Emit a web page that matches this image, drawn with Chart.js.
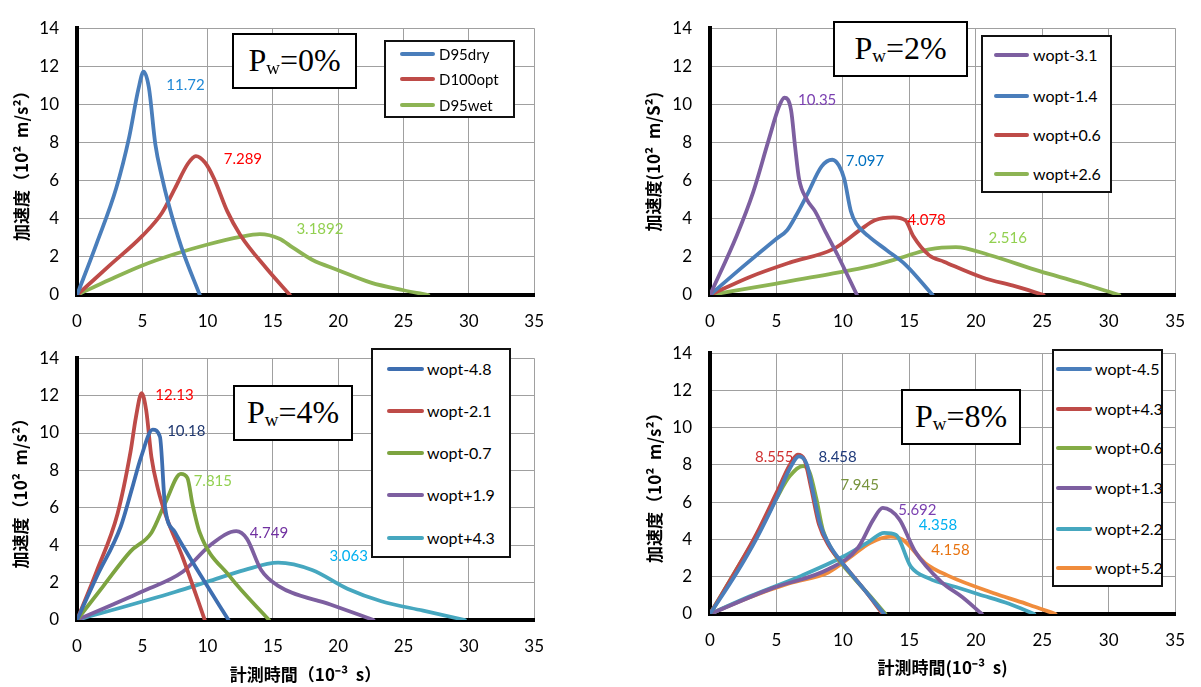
<!DOCTYPE html>
<html><head><meta charset="utf-8">
<script src="https://cdn.jsdelivr.net/npm/chart.js@4.4.1/dist/chart.umd.min.js"></script>
<style>
body{margin:0;width:1201px;height:687px;background:#fff;position:relative;overflow:hidden}
canvas{position:absolute}
.pw{position:absolute;border:2px solid #000;background:#fff;box-sizing:border-box;text-align:center;font-family:"Liberation Serif","DejaVu Serif",serif;font-size:32px;color:#000;white-space:nowrap}
.pw sub{font-size:19px;position:relative;top:3px;vertical-align:baseline;line-height:0}
.lg{position:absolute;border:2px solid #111;background:#fff;box-sizing:border-box}
.ln{position:absolute;height:4px;border-radius:2px}
.lt{position:absolute;font-family:Lato,"Open Sans",sans-serif;color:#000;white-space:nowrap;transform:translateY(-50%);line-height:1}
</style></head><body>
<script>
// ---------- axis ticks ----------
const xTickValues = [0,5,10,15,20,25,30,35];
const yTickValues = [0,2,4,6,8,10,12,14];

// ---------- panel titles ----------
const pwValues = ['0%','2%','4%','8%'];
const yTitles = ['加速度（10²  m/s²）','加速度(10²  m/S²)','加速度（10²  m/s²）','加速度（10²  m/s²）'];
const xTitles = [null,null,'計測時間（10⁻³  s）','計測時間(10⁻³  s)'];

// ---------- Panel 1 (Pw=0%) ----------
const p1Names = ['D95dry','D100opt','D95wet'];
const p1_D95dry_t = [0,1.5,3,4,4.7,5.1,5.5,6,6.5,7,8,9.4];
const p1_D95dry_a = [0,2.7,5.6,8.3,10.8,11.72,10.9,7.9,6.2,4.8,2.5,0];
const p1_D100opt_t = [0,2.5,5,6.5,7.5,8.5,9.1,9.8,10.5,11.5,12.5,14.5,16.3];
const p1_D100opt_a = [0,1.55,3.1,4.3,5.6,6.9,7.289,6.95,6.1,4.4,3.15,1.4,0];
const p1_D95wet_t = [0,2.5,5,7.5,10,12.5,14,15.5,16.5,18,20,22.5,25,26.9];
const p1_D95wet_a = [0,0.8,1.55,2.15,2.65,3.05,3.19,2.95,2.5,1.85,1.3,0.65,0.25,0];
const p1Peaks = ['11.72','7.289','3.1892'];

// ---------- Panel 2 (Pw=2%) ----------
const p2Names = ['wopt-3.1','wopt-1.4','wopt+0.6','wopt+2.6'];
const p2_m31_t = [0,2,3.25,4.4,5.2,5.6,6.1,6.4,6.7,7.3,7.9,8.7,9.6,11.06];
const p2_m31_a = [0,3.1,5.4,8.1,9.9,10.35,9.7,7.8,6.1,5.0,4.4,3.3,2.1,0];
const p2_m14_t = [0,2.5,5,5.8,6.5,7.3,8.4,9.2,9.7,10.1,10.6,11.0,11.9,13.3,14.7,16.75];
const p2_m14_a = [0,1.5,2.95,3.4,4.2,5.25,6.75,7.097,6.8,6.1,4.4,3.75,3.1,2.35,1.6,0];
const p2_p06_t = [0,3,6,9.3,11.3,12.4,13.8,14.7,15.3,16.5,17.6,20.5,23,25.1];
const p2_p06_a = [0,0.95,1.7,2.42,3.42,3.92,4.078,3.92,3.08,2.08,1.75,0.92,0.45,0];
const p2_p26_t = [0,5,9.6,12,14.2,16.5,18.5,21,24.8,27.7,30.8];
const p2_p26_a = [0,0.6,1.17,1.5,1.92,2.4,2.516,2.1,1.25,0.67,0];
const p2Peaks = ['10.35','7.097','4.078','2.516'];

// ---------- Panel 3 (Pw=4%) ----------
const p3Names = ['wopt-4.8','wopt-2.1','wopt-0.7','wopt+1.9','wopt+4.3'];
const p3_m48_t = [0,1.5,3.35,4.2,4.9,5.8,6.35,6.75,7.5,8.5,9.5,11.6];
const p3_m48_a = [0,2.3,5.0,7.0,8.7,10.18,9.8,6.0,4.7,3.5,2.35,0];
const p3_m21_t = [0,1.5,3.1,4.1,4.5,4.95,5.3,5.7,6.2,6.8,8.1,9.78];
const p3_m21_a = [0,2.6,5.67,9,10.8,12.13,11.2,8.7,7.0,5.6,3.33,0];
const p3_m07_t = [0,2,4.1,5.7,6.8,7.95,8.45,8.85,9.4,11.7,14.7];
const p3_m07_a = [0,1.8,3.67,4.67,6.33,7.815,7.6,6.17,4.67,2.33,0];
const p3_p19_t = [0,4.9,8.1,10.2,12.2,13.0,14.1,15.4,19.4,22.7];
const p3_p19_a = [0,1.5,2.58,4.0,4.749,4.35,2.67,1.83,0.83,0];
const p3_p43_t = [0,7.5,10,12.8,15.4,18,20.7,23.3,26.5,29.7];
const p3_p43_a = [0,1.5,2.05,2.67,3.063,2.67,1.67,1.0,0.5,0];
const p3Peaks = ['10.18','12.13','7.815','4.749','3.063'];

// ---------- Panel 4 (Pw=8%) ----------
const p4Names = ['wopt-4.5','wopt+4.3','wopt+0.6','wopt+1.3','wopt+2.2','wopt+5.2'];
const p4_m45_t = [0,2,3.5,5,6,6.7,7.3,7.8,8.3,9,10,11.5,13.1];
const p4_m45_a = [0,2.2,4.05,6.2,7.8,8.458,8.0,6.4,4.8,3.7,2.7,1.4,0];
const p4_p43_t = [0,2,3.5,5,6,6.6,7.1,7.6,8.2,9,10,11.5,13.0];
const p4_p43_a = [0,2.4,4.3,6.5,8.0,8.555,8.3,6.8,4.8,3.6,2.7,1.4,0];
const p4_p06_t = [0,2,3.5,5,6,7,7.5,8,8.5,9.3,10.5,12,13.2];
const p4_p06_a = [0,2.4,4.2,6.2,7.4,7.945,7.6,6.2,4.5,3.3,2.2,1.0,0];
const p4_p13_t = [0,4.7,8.9,11.15,12.3,13.0,14.25,15.4,17.4,19,20.46];
const p4_p13_a = [0,1.39,2.4,3.57,5.08,5.692,5.08,3.4,1.73,0.9,0];
const p4_p22_t = [0,3,6.9,10,12,13.1,14,15.1,16.5,18.5,20.2,22.5,24.4];
const p4_p22_a = [0,0.95,2.06,3.07,3.9,4.358,4.24,2.56,1.9,1.45,1.06,0.55,0];
const p4_p52_t = [0,3,6,8.9,10.6,12,13.6,14.5,16.2,17.9,21.6,24,26];
const p4_p52_a = [0,0.9,1.65,2.23,3.07,3.8,4.158,3.99,2.73,2.06,1.06,0.5,0];
const p4Peaks = ['8.458','8.555','7.945','5.692','4.358','4.158'];

// ---------- styles / layout ----------
const C = {blue:'#4A7EBB', red:'#BE4B48', green:'#8DB454', purple:'#7D5FA0', teal:'#46A7BF', orange:'#F08C3C'};
const tickFont = {family:'Lato, "Open Sans", sans-serif', size:17};
const titleFont = {family:'"Noto Sans CJK JP", sans-serif', size:17, weight:'bold'};

const panels = [
 {left:0, top:0, w:560, h:340, pad:{left:0,top:16,right:12,bottom:0}, yw:77, xh:45, ytp:11, xtb:0,
  series:[[p1Names[0],p1_D95dry_t,p1_D95dry_a,C.blue],[p1Names[1],p1_D100opt_t,p1_D100opt_a,C.red],[p1Names[2],p1_D95wet_t,p1_D95wet_a,C.green]],
  peaks:p1Peaks, peakPos:[[8.3,11.0],[12.7,7.12],[18.6,3.46]], peakCol:['#1E88D6','#FF0000','#92D050'],
  pwBox:[232,33,357,89], legend:{box:[384,40,515,118], line:[400,435], textX:439, rows:[54,79,105], size:15}},
 {left:600, top:0, w:601, h:340, pad:{left:0,top:15,right:20,bottom:0}, yw:110, xh:45, ytp:43, xtb:0,
  series:[[p2Names[0],p2_m31_t,p2_m31_a,C.purple],[p2Names[1],p2_m14_t,p2_m14_a,C.blue],[p2Names[2],p2_p06_t,p2_p06_a,C.red],[p2Names[3],p2_p26_t,p2_p26_a,C.green]],
  peaks:p2Peaks, peakPos:[[8.06,10.25],[11.66,7.0],[16.3,3.95],[22.4,3.0]], peakCol:['#7A3FB0','#0070C0','#FF0000','#92D050'],
  pwBox:[833,21,968,77], legend:{box:[981,35,1112,193], line:[994,1029], textX:1033, rows:[55,96,135,174], size:16}},
 {left:0, top:330, w:560, h:357, pad:{left:0,top:10,right:12,bottom:0}, yw:77, xh:67, ytp:10, xtb:2,
  series:[[p3Names[0],p3_m48_t,p3_m48_a,'#3E6EB0'],[p3Names[1],p3_m21_t,p3_m21_a,C.red],[p3Names[2],p3_m07_t,p3_m07_a,'#7DA440'],[p3Names[3],p3_p19_t,p3_p19_a,C.purple],[p3Names[4],p3_p43_t,p3_p43_a,C.teal]],
  peaks:p3Peaks, peakPos:[[8.37,10.1],[7.46,12.05],[10.4,7.4],[14.7,4.67],[20.8,3.42]], peakCol:['#203870','#FF0000','#92D050','#7030A0','#00B0F0'],
  pwBox:[233,385,353,441], legend:{box:[371,348,511,558], line:[387,424], textX:427, rows:[369,411,453,495,538], size:16}},
 {left:600, top:325, w:601, h:362, pad:{left:0,top:10,right:19,bottom:0}, yw:110, xh:73, ytp:44, xtb:9,
  series:[[p4Names[0],p4_m45_t,p4_m45_a,C.blue],[p4Names[1],p4_p43_t,p4_p43_a,C.red],[p4Names[2],p4_p06_t,p4_p06_a,'#84AC46'],[p4Names[3],p4_p13_t,p4_p13_a,C.purple],[p4Names[4],p4_p22_t,p4_p22_a,C.teal],[p4Names[5],p4_p52_t,p4_p52_a,C.orange]],
  peaks:p4Peaks, peakPos:[[9.6,8.43],[4.83,8.43],[11.27,6.89],[15.6,5.58],[17.15,4.77],[18.1,3.41]], peakCol:['#1F3A7A','#D03030','#77933C','#7A3FB0','#00B0F0','#E8730F'],
  pwBox:[901,389,1021,445], legend:{box:[1052,349,1163,587], line:[1056,1092], textX:1095, rows:[369,409,448,488,529,568], size:16}}
];

const peakPlugin = {
  id:'peakLabels',
  afterDatasetsDraw(chart, args, opts){
    const {ctx, scales} = chart;
    ctx.save();
    ctx.font = '15px Lato, "Open Sans", sans-serif';
    ctx.textAlign = 'center'; ctx.textBaseline = 'middle';
    (opts.items||[]).forEach(it=>{
      ctx.fillStyle = it.color;
      ctx.fillText(it.text, scales.x.getPixelForValue(it.x), scales.y.getPixelForValue(it.y));
    });
    ctx.restore();
  }
};

panels.forEach((p, idx)=>{
  const cv = document.createElement('canvas');
  cv.width = p.w; cv.height = p.h;
  cv.style.left = p.left+'px'; cv.style.top = p.top+'px';
  document.body.appendChild(cv);
  const grid = {color:'#a0a0a0', lineWidth:1, drawTicks:false};
  const border = {color:'#000', width:4};
  new Chart(cv, {
    type:'line',
    data:{datasets:p.series.map(s=>({
      label:s[0], data:s[1].map((t,i)=>({x:t, y:s[2][i]})),
      borderColor:s[3], backgroundColor:s[3], borderWidth:3.8, pointRadius:0,
      cubicInterpolationMode:'monotone', fill:false, borderCapStyle:'round', borderJoinStyle:'round'
    }))},
    options:{
      responsive:false, animation:false, devicePixelRatio:1,
      layout:{padding:p.pad},
      plugins:{legend:{display:false}, tooltip:{enabled:false},
        peakLabels:{items:p.peaks.map((t,i)=>({text:t, x:p.peakPos[i][0], y:p.peakPos[i][1], color:p.peakCol[i]}))}},
      scales:{
        x:{type:'linear', min:xTickValues[0], max:xTickValues[xTickValues.length-1],
           ticks:{stepSize:xTickValues[1]-xTickValues[0], font:tickFont, color:'#000', padding:16, maxRotation:0},
           grid, border,
           title:{display:!!xTitles[idx], text:xTitles[idx]||'', font:titleFont, color:'#000', padding:{top:0,bottom:p.xtb}},
           afterFit(s){ s.height = p.xh; }},
        y:{type:'linear', min:yTickValues[0], max:yTickValues[yTickValues.length-1],
           ticks:{stepSize:yTickValues[1]-yTickValues[0], font:tickFont, color:'#000', padding:18},
           grid, border,
           title:{display:true, text:yTitles[idx], font:titleFont, color:'#000', padding:{top:p.ytp,bottom:0}},
           afterFit(s){ s.width = p.yw; }}
      }
    },
    plugins:[peakPlugin]
  });

  // Pw box
  const b = p.pwBox;
  const pw = document.createElement('div');
  pw.className = 'pw';
  const h = b[3]-b[1];
  pw.style.cssText = `left:${b[0]}px;top:${b[1]}px;width:${b[2]-b[0]}px;height:${h}px;line-height:${h-6}px`;
  pw.innerHTML = 'P<sub>w</sub>=' + pwValues[idx];
  document.body.appendChild(pw);

  // legend
  const L = p.legend;
  const lg = document.createElement('div');
  lg.className = 'lg';
  lg.style.cssText = `left:${L.box[0]}px;top:${L.box[1]}px;width:${L.box[2]-L.box[0]}px;height:${L.box[3]-L.box[1]}px`;
  document.body.appendChild(lg);
  p.series.forEach((s,i)=>{
    const ln = document.createElement('div');
    ln.className = 'ln';
    ln.style.cssText = `left:${L.line[0]}px;top:${L.rows[i]-2}px;width:${L.line[1]-L.line[0]}px;background:${s[3]}`;
    document.body.appendChild(ln);
    const tx = document.createElement('div');
    tx.className = 'lt';
    tx.style.cssText = `left:${L.textX}px;top:${L.rows[i]}px;font-size:${L.size}px`;
    tx.textContent = s[0];
    document.body.appendChild(tx);
  });
});
</script>
</body></html>
